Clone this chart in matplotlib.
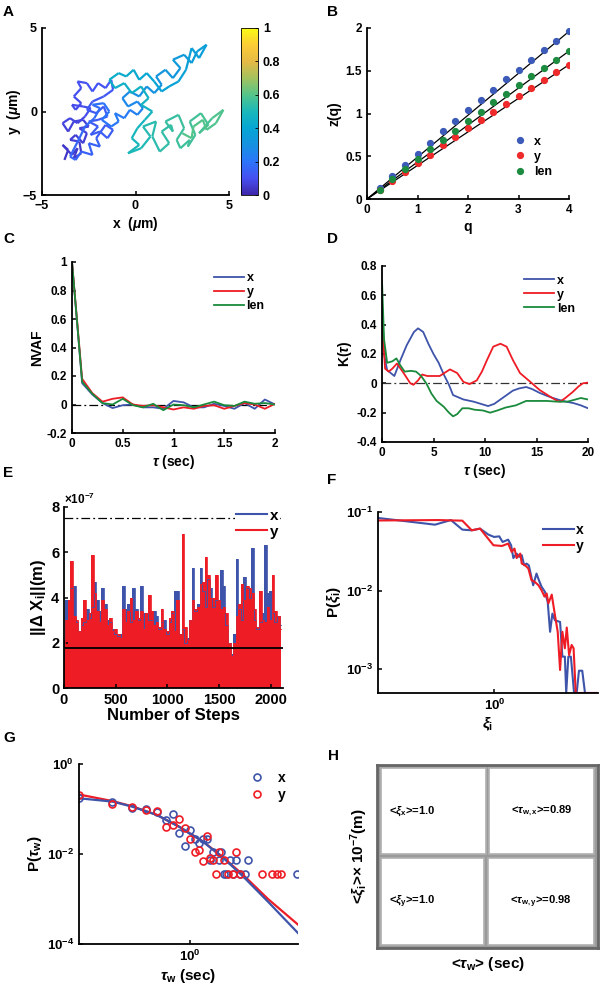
import numpy as np
import matplotlib
matplotlib.use('Agg')
from matplotlib import pyplot as plt
from matplotlib.collections import LineCollection
from matplotlib.colors import LinearSegmentedColormap
from matplotlib.patches import Rectangle
from matplotlib.ticker import FuncFormatter, NullLocator
from matplotlib.cm import ScalarMappable

plt.rcParams['font.family'] = ['Liberation Sans', 'DejaVu Sans']
plt.rcParams['font.weight'] = 'bold'
plt.rcParams['axes.labelweight'] = 'bold'
plt.rcParams['mathtext.fontset'] = 'custom'
plt.rcParams['mathtext.rm'] = 'Liberation Sans:bold'
plt.rcParams['mathtext.it'] = 'Liberation Sans:italic:bold'
plt.rcParams['mathtext.bf'] = 'Liberation Sans:bold'
plt.rcParams['xtick.direction'] = 'in'
plt.rcParams['ytick.direction'] = 'in'
plt.rcParams['axes.linewidth'] = 1.3
plt.rcParams['xtick.major.width'] = 1.1
plt.rcParams['ytick.major.width'] = 1.1

BLUE = '#3E54AA'
RED = '#EE1C25'
GREEN = '#1A8A3C'

# ---- A: trajectory (x, y, normalised time) ----
traj = [(-3.8, -2.9, .04), (-3.6, -2.3, .04), (-3.9, -2.0, .05), (-3.4, -2.6, .05), (-3.1, -2.2, .05),
        (-3.3, -2.8, .05), (-2.9, -2.5, .05), (-3.0, -1.8, .06),
        (-3.5, -1.7, .06), (-3.2, -1.4, .06), (-2.8, -1.9, .06), (-2.6, -1.3, .07), (-3.0, -1.0, .07),
        (-2.5, -0.9, .07), (-2.8, -0.5, .07), (-3.3, -0.6, .07),
        (-3.6, -1.2, .07), (-3.9, -0.7, .08), (-3.5, -0.4, .08), (-3.1, -0.7, .08), (-2.7, -0.3, .09),
        (-2.4, 0.2, .09), (-2.8, 0.3, .09), (-3.4, 0.4, .09),
        (-3.2, 0.1, .09), (-2.9, 0.5, .09), (-3.3, 0.9, .10), (-2.9, 1.4, .10), (-3.1, 1.8, .10),
        (-2.6, 1.7, .11), (-2.3, 1.2, .11), (-2.0, 1.7, .11), (-1.6, 1.4, .12), (-1.3, 1.9, .12),
        (-1.2, 1.3, .12), (-1.7, 0.9, .12), (-2.3, 0.6, .13), (-2.6, 0.1, .13), (-2.1, -0.1, .13),
        (-1.7, 0.3, .13), (-1.5, -0.3, .13), (-2.0, -0.5, .13),
        (-2.5, -0.6, .13), (-2.0, -0.9, .14), (-2.4, -1.4, .14), (-1.9, -1.2, .14), (-1.5, -1.6, .14),
        (-1.2, -1.1, .14), (-1.6, -0.8, .14), (-2.1, -1.6, .15),
        (-1.9, -2.1, .15), (-2.5, -1.9, .15), (-2.3, -2.6, .15), (-2.9, -2.4, .15), (-3.2, -2.9, .16),
        (-3.5, -2.7, .16), (-3.0, -1.6, .17), (-2.7, -0.9, .17), (-2.2, -0.4, .18), (-1.9, 0.2, .18),
        (-2.3, 0.4, .19), (-1.7, 0.5, .19), (-1.4, 0.0, .20), (-1.8, -0.5, .20), (-1.3, -0.9, .21),
        (-0.9, -0.6, .22), (-1.1, -0.1, .22), (-0.6, -0.4, .23), (-0.3, 0.1, .24), (0.1, -0.2, .25),
        (0.4, 0.2, .26), (0.1, 0.6, .27), (-0.4, 0.3, .27), (-0.7, 0.8, .28), (-0.3, 1.2, .29),
        (0.2, 0.9, .30), (0.6, 1.5, .31), (1.0, 1.1, .31), (1.4, 1.6, .32), (1.1, 2.1, .32),
        (1.6, 2.5, .33), (2.0, 2.0, .33), (2.4, 2.6, .34), (2.0, 3.1, .34), (2.6, 3.4, .35),
        (3.0, 2.9, .35), (3.3, 3.6, .36), (3.8, 4.0, .36), (3.4, 3.2, .37), (3.0, 3.8, .37),
        (2.7, 2.5, .38), (2.3, 1.8, .38), (1.8, 1.5, .39), (1.4, 1.2, .39), (1.0, 1.8, .40),
        (0.6, 2.3, .41), (0.2, 1.9, .42), (-0.1, 2.5, .43), (-0.5, 2.1, .43), (-0.9, 2.3, .44),
        (-1.4, 1.9, .44), (-1.1, 1.4, .45), (-0.6, 1.7, .45), (-0.2, 1.1, .46), (0.3, 1.5, .46),
        (0.7, 0.8, .47), (0.3, 0.4, .47), (0.9, 0.0, .48), (0.5, -0.5, .48), (0.1, -1.0, .49),
        (-0.2, -1.6, .49), (0.2, -2.0, .50), (-0.4, -2.5, .50), (0.3, -2.2, .51), (0.8, -1.5, .52),
        (0.4, -0.9, .52), (1.1, -0.6, .53), (0.9, -1.5, .53), (1.3, -2.4, .54), (1.8, -1.9, .54),
        (1.4, -1.2, .54), (1.9, -0.8, .55),
        (2.0, -1.2, .55), (1.6, -0.6, .55), (2.3, -0.2, .56), (2.6, -1.0, .56), (2.2, -1.7, .56),
        (2.4, -2.2, .56), (2.9, -1.7, .57),
        (2.8, -2.1, .57), (3.2, -1.4, .57), (2.9, -0.6, .57), (3.5, -0.1, .58), (3.9, -0.8, .58),
        (3.4, -1.3, .58), (4.1, -0.4, .59), (4.7, 0.1, .59), (4.3, -0.7, .59), (3.8, -1.1, .60),
        (3.6, -0.5, .60), (3.1, -0.9, .60),
        (3.0, -1.6, .60), (2.5, -1.3, .60)]

# ---- B: scaling exponents ----
q = [0.25, 0.5, 0.75, 1.0, 1.25, 1.5, 1.75, 2.0, 2.25, 2.5, 2.75, 3.0, 3.25, 3.5, 3.75, 4.0]
zq_x = [0.13, 0.27, 0.40, 0.53, 0.66, 0.79, 0.91, 1.04, 1.16, 1.28, 1.40, 1.51, 1.63, 1.74, 1.85, 1.96]
zq_y = [0.10, 0.21, 0.31, 0.42, 0.52, 0.63, 0.73, 0.83, 0.92, 1.02, 1.11, 1.21, 1.30, 1.39, 1.48, 1.57]
zq_len = [0.11, 0.23, 0.35, 0.47, 0.58, 0.69, 0.80, 0.91, 1.02, 1.13, 1.23, 1.33, 1.44, 1.53, 1.63, 1.73]
fit_q = [0, 4]
fit_x = [0, 1.96]
fit_y = [0, 1.57]
fit_len = [0, 1.73]

# ---- C: NVAF ----
tau_c = [0, 0.1, 0.2, 0.3, 0.4, 0.5, 0.6, 0.7, 0.8, 0.9, 1.0, 1.1, 1.2, 1.3, 1.4, 1.5, 1.6, 1.7, 1.8, 1.9, 2.0]
nvaf_x = [1, 0.15, 0.07, 0.01, -0.025, -0.005, 0.0, -0.02, -0.02, -0.03, 0.025, 0.015, -0.02, -0.02,
          0.005, -0.01, -0.03, 0.01, -0.03, 0.035, 0.0]
nvaf_y = [1, 0.18, 0.08, 0.02, 0.04, 0.05, 0.0, -0.01, -0.005, -0.02, -0.035, -0.02, -0.03, -0.01,
          -0.005, -0.03, -0.01, 0.01, 0.0, -0.03, 0.005]
nvaf_len = [1, 0.16, 0.075, 0.01, 0.0, 0.04, -0.005, -0.02, 0.005, -0.04, 0.0, -0.005, -0.02, 0.0,
            0.02, -0.005, -0.01, 0.02, 0.005, 0.01, 0.0]

# ---- D: K(tau) ----
tk_x = [0, 0.2, 0.5, 1.2, 1.8, 2.4, 3.1, 3.5, 4.0, 4.5, 5.0, 5.5, 6.0, 6.5, 6.9, 7.9, 8.9, 9.6, 10.3,
        10.9, 11.5, 12.1, 12.7, 13.3, 14.0, 14.6, 15.3, 16.0, 16.6, 17.3, 17.9, 18.6, 19.3, 20.0]
k_x = [0.55, 0.2, 0.09, 0.05, 0.16, 0.26, 0.35, 0.375, 0.35, 0.27, 0.2, 0.14, 0.06, -0.01, -0.08,
       -0.11, -0.125, -0.14, -0.155, -0.14, -0.11, -0.08, -0.05, -0.035, -0.025, -0.04, -0.065,
       -0.085, -0.1, -0.115, -0.125, -0.135, -0.15, -0.17]
tk_y = [0, 0.3, 0.65, 1.0, 1.45, 2.1, 2.75, 3.06, 3.5, 3.9, 4.4, 5.0, 5.6, 6.6, 7.3, 7.9, 8.5, 9.2,
        9.7, 10.2, 10.8, 11.5, 12.1, 12.7, 13.4, 13.9, 14.4, 15.3, 16.3, 16.9, 17.3, 17.8, 18.5,
        19.1, 19.5, 20.0]
k_y = [0.42, 0.1, 0.08, 0.1, 0.135, 0.07, 0.0, -0.01, 0.02, 0.06, 0.05, 0.05, 0.05, 0.095, 0.07,
       0.01, -0.005, 0.02, 0.08, 0.16, 0.25, 0.27, 0.25, 0.16, 0.07, 0.04, 0.01, -0.045, -0.09,
       -0.115, -0.125, -0.1, -0.06, -0.02, 0.0, 0.005]
tk_len = [0, 0.2, 0.5, 1.0, 1.4, 1.8, 2.2, 2.8, 3.3, 3.8, 4.3, 4.8, 5.3, 6.0, 6.5, 6.9, 7.3, 7.8,
          8.4, 9.0, 9.8, 10.5, 11.2, 12.0, 13.0, 14.0, 15.0, 16.0, 17.0, 18.0, 18.8, 19.3, 20.0]
k_len = [0.7, 0.3, 0.14, 0.15, 0.17, 0.12, 0.08, 0.085, 0.08, 0.05, 0.0, -0.07, -0.12, -0.16, -0.2,
         -0.225, -0.21, -0.17, -0.17, -0.18, -0.185, -0.2, -0.185, -0.165, -0.15, -0.12, -0.12,
         -0.12, -0.125, -0.125, -0.11, -0.1, -0.11]

# ---- E: step sizes (x 1e-7 m), envelope every 25 steps ----
steps = np.arange(0, 2101, 25)
dx_env = [2.1, 3.9, 3.9, 4.4, 4.5, 2.9, 2.5, 2.8, 2.9, 3.5, 3.1, 3.6, 4.7, 3.9, 3.4, 4.4, 3.7, 3.0,
          2.9, 2.6, 2.4, 2.3, 2.4, 4.5, 3.5, 3.7, 2.9, 4.4, 3.5, 3.0, 4.5, 3.3, 3.3, 3.0, 3.0, 3.4,
          3.2, 2.6, 2.9, 3.0, 2.4, 2.9, 3.3, 4.3, 4.3, 2.4, 2.6, 2.0, 2.2, 3.0, 5.3, 3.4, 3.7, 5.3,
          4.3, 3.6, 4.8, 4.4, 3.6, 3.9, 3.9, 5.2, 4.5, 2.8, 2.0, 1.5, 2.4, 5.7, 3.5, 3.0, 4.9, 4.4,
          4.0, 6.2, 3.0, 2.6, 2.9, 3.3, 6.3, 4.2, 4.3, 3.3, 2.9, 3.2, 2.8]
dy_env = [1.3, 3.0, 3.9, 5.6, 3.2, 3.0, 2.5, 3.1, 3.9, 3.0, 3.3, 5.9, 4.2, 3.4, 2.9, 3.9, 3.5, 2.8,
          3.1, 2.5, 2.6, 2.4, 2.2, 3.5, 2.9, 3.4, 4.0, 3.0, 3.4, 3.1, 3.4, 2.6, 3.3, 4.1, 3.4, 2.8,
          2.9, 2.7, 3.5, 2.6, 2.5, 3.1, 3.4, 2.5, 3.9, 2.4, 6.8, 2.7, 2.1, 3.0, 3.9, 3.5, 3.6, 4.6,
          4.7, 5.8, 5.0, 4.0, 4.0, 5.0, 3.9, 3.5, 3.6, 3.3, 2.0, 1.4, 2.0, 3.2, 3.7, 4.6, 3.9, 4.5,
          4.4, 4.2, 3.5, 2.7, 4.3, 3.0, 2.9, 3.6, 3.0, 5.0, 3.4, 3.2, 2.6]
mean_step = 1.75
thresh_step = 7.5

# ---- F: P(xi) ----
xi_x = [0.2, 0.44, 0.548, 0.642, 0.731, 0.82, 0.92, 0.995, 1.07, 1.12, 1.21, 1.26, 1.30, 1.36, 1.41,
        1.46, 1.51, 1.56, 1.61, 1.71, 1.79, 1.85, 1.92, 2.01, 2.09, 2.16, 2.23, 2.31, 2.48, 2.56,
        2.65, 2.70, 2.78, 2.88, 3.01, 3.12, 3.22, 3.37, 3.50, 4.19]
p_xi_x = [0.084, 0.069, 0.079, 0.0597, 0.0585, 0.0615, 0.0516, 0.0482, 0.049, 0.0416, 0.0445,
          0.0378, 0.026, 0.0296, 0.0269, 0.0282, 0.021, 0.0221, 0.021, 0.0117, 0.0165, 0.0136,
          0.0112, 0.0097, 0.0072, 0.003, 0.0051, 0.0042, 0.004, 0.00145, 0.00145, 5e-4, 0.00145,
          0.00145, 5e-4, 5e-4, 9.6e-4, 9.6e-4, 5e-4, 5e-4]
xi_y = [0.2, 0.46, 0.642, 0.731, 0.82, 0.987, 1.11, 1.21, 1.27, 1.32, 1.36, 1.43, 1.46, 1.53, 1.60,
        1.67, 1.75, 1.84, 1.92, 2.0, 2.06, 2.11, 2.21, 2.31, 2.40, 2.48, 2.56, 2.65, 2.72, 2.81,
        2.91, 2.99, 3.08, 4.19]
p_xi_y = [0.078, 0.079, 0.0776, 0.0585, 0.0615, 0.0378, 0.037, 0.0397, 0.0311, 0.0343, 0.026,
          0.0296, 0.0221, 0.021, 0.0191, 0.0136, 0.0129, 0.0117, 0.0101, 0.0084, 0.0092, 0.0069,
          0.0089, 0.0049, 0.003, 9.8e-4, 0.003, 0.00185, 0.0034, 0.00152, 0.00204, 0.00185, 5e-4,
          5e-4]

# ---- G: waiting times ----
tw_x = [0.1, 0.2, 0.3, 0.4, 0.5, 0.6, 0.7, 0.8, 0.9, 1.0, 1.1, 1.2, 1.3, 1.4, 1.5, 1.6, 1.8, 1.9,
        2.0, 2.1, 2.3, 2.4, 2.6, 2.8, 3.1, 3.3, 9.2]
ptw_x = [0.18, 0.14, 0.105, 0.10, 0.085, 0.056, 0.076, 0.03, 0.015, 0.034, 0.022, 0.018, 0.022,
         0.022, 0.0073, 0.011, 0.0073, 0.011, 0.0036, 0.0036, 0.0073, 0.0036, 0.0073, 0.0036,
         0.0036, 0.0073, 0.0036]
tw_y = [0.1, 0.2, 0.3, 0.4, 0.5, 0.6, 0.7, 0.8, 0.9, 1.0, 1.1, 1.2, 1.3, 1.4, 1.5, 1.6, 1.7, 1.8,
        2.0, 2.2, 2.4, 2.6, 2.8, 4.4, 5.4, 6.0, 6.5]
ptw_y = [0.2, 0.13, 0.11, 0.095, 0.09, 0.04, 0.045, 0.06, 0.038, 0.022, 0.011, 0.012, 0.007, 0.025,
         0.008, 0.0073, 0.0036, 0.011, 0.0073, 0.0036, 0.0036, 0.011, 0.0036, 0.0036, 0.0036,
         0.0036, 0.0036]
fit_tw = [0.1, 0.2, 0.3, 0.5, 0.8, 1.3, 2.0, 3.0, 5.0, 9.3]
fit_ptw_x = [0.173, 0.146, 0.113, 0.074, 0.040, 0.0188, 0.0080, 0.00313, 8.7e-4, 1.75e-4]
fit_ptw_y = [0.21, 0.15, 0.115, 0.074, 0.040, 0.019, 0.0082, 0.0034, 0.0010, 2.7e-4]

# ---- H: mean values ----
h_labels = [r'<$\xi_\mathbf{x}$>=1.0', r'<$\tau_\mathbf{w,x}$>=0.89',
            r'<$\xi_\mathbf{y}$>=1.0', r'<$\tau_\mathbf{w,y}$>=0.98']

parula = LinearSegmentedColormap.from_list('parula', [
    (0.2422, 0.1504, 0.6603), (0.2770, 0.3160, 0.9500), (0.1700, 0.4600, 0.9800),
    (0.0900, 0.5700, 0.8800), (0.0200, 0.6500, 0.8300), (0.1000, 0.7200, 0.7300),
    (0.3300, 0.7700, 0.5400), (0.6400, 0.7600, 0.3700), (0.9000, 0.7300, 0.2700),
    (0.9900, 0.8000, 0.2100), (0.9769, 0.9839, 0.0805)])


def clean(ax, fs):
    ax.spines['top'].set_visible(False)
    ax.spines['right'].set_visible(False)
    ax.tick_params(labelsize=fs, length=3)


def logfmt(v, pos):
    return r'$\mathbf{10^{%d}}$' % int(round(np.log10(v)))


fig = plt.figure(figsize=(6, 9.98), dpi=100)
W, H = 600.0, 998.0


def box(l, t, r, b):
    return [l / W, 1 - b / H, (r - l) / W, (b - t) / H]


# A
ax = fig.add_axes(box(42, 28, 229, 195))
tx = np.array([p[0] for p in traj])
ty = np.array([p[1] for p in traj])
tt = np.array([p[2] for p in traj])
segs = np.stack([np.column_stack([tx[:-1], ty[:-1]]), np.column_stack([tx[1:], ty[1:]])], axis=1)
lc = LineCollection(segs, cmap=parula, norm=plt.Normalize(0, 1), linewidth=1.6)
lc.set_array(tt[:-1])
ax.add_collection(lc)
ax.set_xlim(-5, 5)
ax.set_ylim(-5, 5)
ax.set_xticks([-5, 0, 5])
ax.set_yticks([-5, 0, 5])
clean(ax, 9)
ax.set_xlabel(r'x  ($\mu$m)', fontsize=10, labelpad=2)
ax.set_ylabel(r'y  ($\mu$m)', fontsize=10, labelpad=0)
cax = fig.add_axes(box(241, 28, 258, 195))
cb = fig.colorbar(ScalarMappable(norm=plt.Normalize(0, 1), cmap=parula), cax=cax)
cb.set_ticks([0, 0.2, 0.4, 0.6, 0.8, 1])
cb.set_ticklabels(['0', '0.2', '0.4', '0.6', '0.8', '1'])
cb.outline.set_linewidth(0.6)
cax.tick_params(labelsize=9, direction='in', length=2, width=0.6)

# B
ax = fig.add_axes(box(367, 28, 569, 199))
ax.plot(fit_q, fit_x, color='black', lw=0.9)
ax.plot(fit_q, fit_len, color='black', lw=0.9)
ax.plot(fit_q, fit_y, color='black', lw=0.9)
ax.plot(q, zq_x, 'o', color='#3C5AB8', ms=4.2, label='x')
ax.plot(q, zq_y, 'o', color='#EE2A2A', ms=4.2, label='y')
ax.plot(q, zq_len, 'o', color='#1E8C40', ms=4.2, label='len')
ax.set_xlim(0, 4)
ax.set_ylim(0, 2)
ax.set_xticks([0, 1, 2, 3, 4])
ax.set_yticks([0, 0.5, 1, 1.5, 2])
ax.set_yticklabels(['0', '0.5', '1', '1.5', '2'])
clean(ax, 8.5)
ax.set_xlabel('q', fontsize=10, labelpad=3)
ax.set_ylabel('z(q)', fontsize=10, labelpad=3)
ax.legend(loc='upper left', bbox_to_anchor=(0.72, 0.37), frameon=False, fontsize=9,
          handlelength=1.2, handletextpad=0.5, labelspacing=0.25, borderpad=0, borderaxespad=0)

# C
ax = fig.add_axes(box(72, 262, 275, 433))
ax.plot([0, 2], [0, 0], color='black', lw=0.9, dashes=(7, 2.5, 1.5, 2.5))
ax.plot(tau_c, nvaf_x, color=BLUE, lw=1.3, label='x')
ax.plot(tau_c, nvaf_y, color=RED, lw=1.3, label='y')
ax.plot(tau_c, nvaf_len, color=GREEN, lw=1.3, label='len')
ax.set_xlim(0, 2)
ax.set_ylim(-0.2, 1)
ax.set_xticks([0, 0.5, 1, 1.5, 2])
ax.set_xticklabels(['0', '0.5', '1', '1.5', '2'])
ax.set_yticks([-0.2, 0, 0.2, 0.4, 0.6, 0.8, 1])
ax.set_yticklabels(['-0.2', '0', '0.2', '0.4', '0.6', '0.8', '1'])
clean(ax, 8.5)
ax.set_xlabel(r'$\tau$ (sec)', fontsize=10, labelpad=2)
ax.set_ylabel('NVAF', fontsize=10, labelpad=2)
ax.legend(loc='upper left', bbox_to_anchor=(0.70, 0.94), frameon=False,
          fontsize=9, handlelength=2.4, handletextpad=0.2, labelspacing=0.15, borderpad=0,
          borderaxespad=0)

# D
ax = fig.add_axes(box(382, 266, 588, 442))
ax.plot([0, 20], [0, 0], color='#333333', lw=0.9, dashes=(7, 2.5, 1.5, 2.5))
ax.plot(tk_x, k_x, color=BLUE, lw=1.3, label='x')
ax.plot(tk_y, k_y, color=RED, lw=1.3, label='y')
ax.plot(tk_len, k_len, color=GREEN, lw=1.3, label='len')
ax.set_xlim(0, 20)
ax.set_ylim(-0.4, 0.8)
ax.set_xticks([0, 5, 10, 15, 20])
ax.set_yticks([-0.4, -0.2, 0, 0.2, 0.4, 0.6, 0.8])
ax.set_yticklabels(['-0.4', '-0.2', '0', '0.2', '0.4', '0.6', '0.8'])
clean(ax, 8.5)
ax.set_xlabel(r'$\tau$ (sec)', fontsize=10, labelpad=2)
ax.set_ylabel(r'K($\tau$)', fontsize=10, labelpad=2)
ax.legend(loc='upper left', bbox_to_anchor=(0.69, 0.95), frameon=False,
          fontsize=9, handlelength=2.4, handletextpad=0.2, labelspacing=0.15, borderpad=0,
          borderaxespad=0)

# E
ax = fig.add_axes(box(64, 507, 283, 688))
ax.fill_between(steps, dx_env, step='mid', color=BLUE, lw=0)
lx, = ax.plot(steps, dx_env, drawstyle='steps-mid', color=BLUE, lw=0.6)
ax.fill_between(steps, dy_env, step='mid', color=RED, lw=0)
ly, = ax.plot(steps, dy_env, drawstyle='steps-mid', color=RED, lw=0.6)
ax.axhline(mean_step, color='black', lw=1.3)
ax.axhline(thresh_step, color='black', lw=0.9, dashes=(7, 2.5, 1.5, 2.5))
ax.set_xlim(0, 2120)
ax.set_ylim(0, 8)
ax.set_xticks([0, 500, 1000, 1500, 2000])
ax.set_yticks([0, 2, 4, 6, 8])
clean(ax, 10.5)
ax.text(0.0, 1.0, r'$\times$10$^{-7}$', transform=ax.transAxes, fontsize=8.5, ha='left', va='bottom')
ax.set_xlabel('Number of Steps', fontsize=12, labelpad=1)
ax.set_ylabel(r'||$\Delta$ X$_\mathbf{i}$||(m)', fontsize=12, labelpad=2)
ex = plt.Line2D([], [], color=BLUE, lw=1.5)
ey = plt.Line2D([], [], color=RED, lw=1.5)
ax.legend([ex, ey], ['x', 'y'], loc='upper left', bbox_to_anchor=(0.78, 1.0), frameon=True,
          facecolor='white', edgecolor='none', framealpha=1, fontsize=11, handlelength=2.0,
          handletextpad=0.2, labelspacing=0.15, borderpad=0.1, borderaxespad=0)

# F
ax = fig.add_axes(box(378, 512, 598, 693))
ax.plot(xi_x, p_xi_x, color=BLUE, lw=1.5, label='x')
ax.plot(xi_y, p_xi_y, color=RED, lw=1.5, label='y')
ax.set_xscale('log')
ax.set_yscale('log')
ax.set_xlim(0.2, 4.19)
ax.set_ylim(5e-4, 0.1)
ax.set_xticks([1])
ax.set_yticks([1e-3, 1e-2, 1e-1])
ax.xaxis.set_minor_locator(NullLocator())
ax.yaxis.set_minor_locator(NullLocator())
ax.xaxis.set_major_formatter(FuncFormatter(logfmt))
ax.yaxis.set_major_formatter(FuncFormatter(logfmt))
clean(ax, 9.5)
ax.set_xlabel(r'$\xi_\mathbf{i}$', fontsize=11, labelpad=2)
ax.set_ylabel(r'P($\xi_\mathbf{i}$)', fontsize=11, labelpad=2)
ax.legend(loc='upper left', bbox_to_anchor=(0.75, 0.94), frameon=False, fontsize=10,
          handlelength=2.2, handletextpad=0.2, labelspacing=0.15, borderpad=0, borderaxespad=0)

# G
ax = fig.add_axes(box(79, 764, 298, 944))
ax.plot(fit_tw, fit_ptw_y, color=RED, lw=1.6)
ax.plot(fit_tw, fit_ptw_x, color=BLUE, lw=1.6)
ax.plot(tw_x, ptw_x, 'o', mfc='none', mec=BLUE, mew=1.2, ms=5, label='x')
ax.plot(tw_y, ptw_y, 'o', mfc='none', mec=RED, mew=1.2, ms=5, label='y')
ax.set_xscale('log')
ax.set_yscale('log')
ax.set_xlim(0.1, 9.3)
ax.set_ylim(1e-4, 1)
ax.set_xticks([1])
ax.set_yticks([1e-4, 1e-2, 1])
ax.xaxis.set_minor_locator(NullLocator())
ax.yaxis.set_minor_locator(NullLocator())
ax.xaxis.set_major_formatter(FuncFormatter(logfmt))
ax.yaxis.set_major_formatter(FuncFormatter(logfmt))
clean(ax, 9.5)
ax.set_xlabel(r'$\tau_\mathbf{w}$ (sec)', fontsize=11, labelpad=2)
ax.set_ylabel(r'P($\tau_\mathbf{w}$)', fontsize=11, labelpad=2)
ax.legend(loc='upper left', bbox_to_anchor=(0.78, 0.96), frameon=False,
          fontsize=10, handlelength=1.0, handletextpad=1.0, labelspacing=0.2, borderpad=0,
          borderaxespad=0)

# H
ax = fig.add_axes(box(377, 765, 598, 948))
ax.set_xlim(0, 1)
ax.set_ylim(0, 1)
ax.set_xticks([])
ax.set_yticks([])
ax.set_facecolor('#9a9a9a')
for s in ax.spines.values():
    s.set_color('#666666')
    s.set_linewidth(2.0)
cells = [(0.016, 0.512, 0.476, 0.472), (0.506, 0.512, 0.478, 0.472),
         (0.016, 0.016, 0.470, 0.476), (0.500, 0.016, 0.484, 0.476)]
for (x0, y0, w, hh), lab in zip(cells, h_labels):
    ax.add_patch(Rectangle((x0, y0), w, hh, facecolor='white', edgecolor='#b0b0b0', lw=1.2))
    ax.text(x0 + 0.04 + (0.06 if x0 > 0.4 else 0.0), y0 + 0.5 * hh, lab, fontsize=8, va='center')
ax.set_xlabel(r'<$\tau_\mathbf{w}$> (sec)', fontsize=11, labelpad=5)
ax.set_ylabel(r'<$\xi_\mathbf{i}$>$\times$ 10$^{\mathbf{-7}}$(m)', fontsize=11, labelpad=5)

# panel letters
for lab, px, py in [('A', 3, 5), ('B', 327, 5), ('C', 3, 232), ('D', 327, 232),
                    ('E', 3, 466), ('F', 327, 473), ('G', 3, 731), ('H', 328, 749)]:
    fig.text(px / W, 1 - py / H, lab, fontsize=11, fontweight='bold', ha='left', va='top')

fig.savefig('out.png', dpi=100, facecolor='white')
